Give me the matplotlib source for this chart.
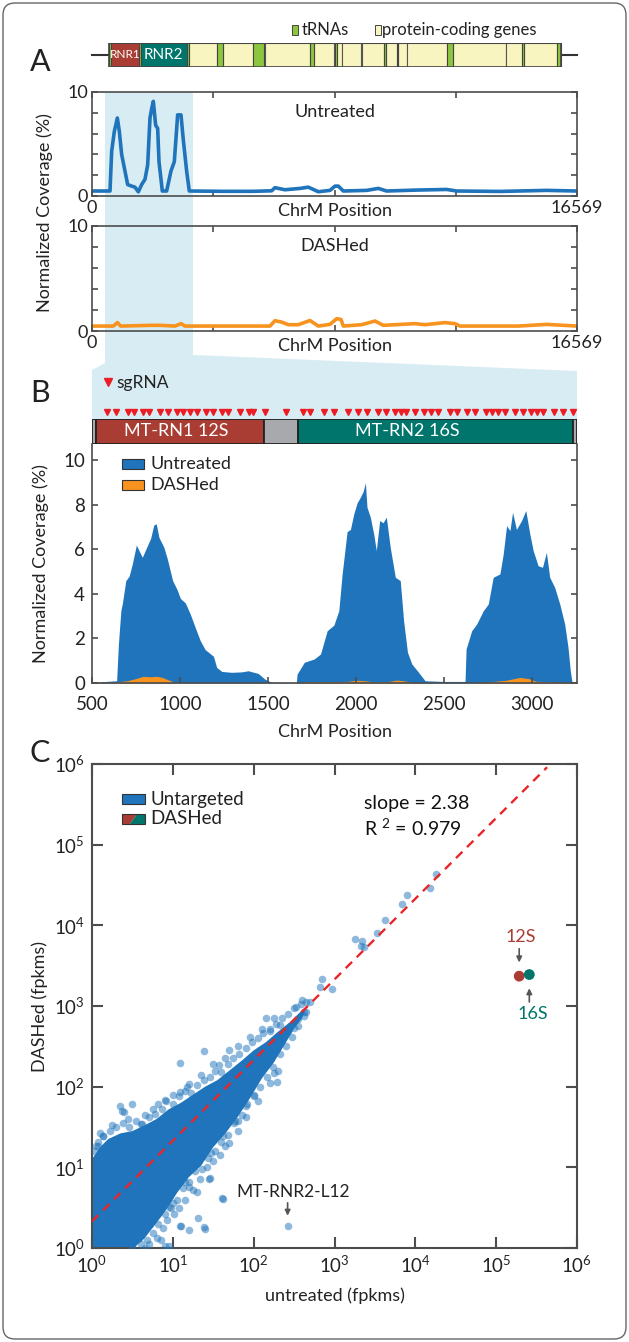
import matplotlib.pyplot as plt
import numpy as np
from matplotlib.patches import Rectangle, Polygon, FancyBboxPatch

plt.rcParams['font.family'] = ['Lato', 'DejaVu Sans']
plt.rcParams['mathtext.fontset'] = 'custom'
plt.rcParams['mathtext.rm'] = 'Lato'
plt.rcParams['mathtext.default'] = 'regular'

GENOME = 16569

# mitochondrial gene map (start, end)
rrna_spans = [(648, 1601), (1671, 3229)]
rrna_names = ['RNR1', 'RNR2']
trna_spans = [(577, 647), (1602, 1670), (3230, 3304), (4263, 4469), (5512, 5891),
              (7446, 7585), (8295, 8364), (9991, 10058), (10405, 10469),
              (12138, 12336), (14674, 14742), (15888, 16023)]
protein_spans = [(3307, 4262), (4470, 5511), (5904, 7445), (7586, 8269), (8366, 8526),
                 (8527, 9206), (9207, 9990), (10059, 10404), (10470, 10759),
                 (10760, 12137), (12337, 14148), (14149, 14673), (14747, 15887)]

# whole-genome coverage (%)
a_pos = [0, 615, 672, 762, 866, 934, 1013, 1105, 1218, 1355, 1469, 1583, 1697, 1810, 1902,
         1981, 2038, 2095, 2175, 2243, 2289, 2402, 2550, 2698, 2812, 2926, 3040, 3119, 3233,
         3324, 4500, 5500, 6137, 6250, 6592, 7106, 7389, 7561, 7732, 8130, 8301, 8415, 8586,
         9383, 9781, 10066, 11091, 12116, 12457, 13937, 15531, 16569]
a_untreated = [0.48, 0.48, 4.3, 6.2, 7.5, 6.2, 4.0, 2.7, 1.1, 0.95, 0.85, 0.4, 1.1, 1.6, 3.0,
               7.5, 8.4, 9.1, 6.8, 6.5, 3.3, 0.48, 0.48, 2.4, 3.3, 7.8, 7.8, 5.4, 2.4,
               0.48, 0.45, 0.45, 0.5, 0.8, 0.6, 0.73, 0.85, 0.63, 0.41, 0.54, 0.95, 0.95, 0.48,
               0.54, 0.73, 0.48, 0.57, 0.63, 0.48, 0.44, 0.54, 0.48]
d_pos = [0, 729, 866, 980, 2038, 2323, 2835, 3040, 3177, 6080, 6251, 6479, 6707, 7048, 7447,
         7732, 8130, 8358, 8506, 8586, 9212, 9668, 9952, 11034, 11376, 12059, 12400, 12571,
         14563, 15531, 16569]
a_dashed = [0.47, 0.47, 0.8, 0.47, 0.54, 0.54, 0.47, 0.7, 0.47, 0.47, 0.98, 0.85, 0.6, 0.6, 1.0,
            0.47, 0.63, 1.17, 1.1, 0.47, 0.6, 0.95, 0.54, 0.7, 0.6, 0.8, 0.7, 0.47,
            0.47, 0.63, 0.47]

# rRNA region coverage (%)
b_pos = [500, 560, 640, 650, 664, 673, 692, 711, 729, 752,
         767, 786, 805, 833, 851, 865, 880, 908, 927, 958,
         983, 1002, 1030, 1058, 1086, 1115, 1143, 1190, 1208, 1237,
         1293, 1350, 1387, 1444, 1481, 1519, 1594, 1661, 1665, 1706,
         1762, 1798, 1836, 1874, 1902, 1921, 1949, 1968, 1987, 2006,
         2021, 2040, 2053, 2062, 2081, 2100, 2115, 2134, 2153, 2172,
         2194, 2223, 2251, 2270, 2292, 2317, 2355, 2392, 2496, 2619,
         2625, 2657, 2685, 2723, 2751, 2779, 2817, 2836, 2855, 2874,
         2889, 2911, 2940, 2964, 2987, 3006, 3034, 3059, 3081, 3100,
         3128, 3157, 3185, 3204, 3217, 3227, 3255]
b_untreated = [0.0, 0.06, 0.1, 1.75, 3.25, 3.6, 4.6, 4.8, 5.35, 6.2,
               5.95, 5.65, 6.0, 6.5, 7.1, 7.15, 6.55, 6.1, 5.6, 4.6,
               4.2, 3.8, 3.6, 3.1, 2.5, 1.9, 1.5, 1.2, 0.7, 0.52,
               0.48, 0.5, 0.55, 0.43, 0.18, 0.03, 0.02, 0.02, 0.4, 0.93,
               1.08, 1.3, 2.35, 2.6, 3.25, 4.9, 6.8, 6.9, 7.6, 8.1,
               8.3, 8.6, 9.0, 7.9, 7.45, 6.7, 5.95, 7.3, 7.2, 7.45,
               6.1, 4.75, 4.6, 2.8, 1.38, 0.85, 0.48, 0.1, 0.07, 0.07,
               1.53, 2.35, 2.65, 3.25, 3.55, 4.75, 4.9, 5.8, 7.07, 6.85,
               7.67, 6.9, 7.3, 7.75, 6.7, 5.95, 5.27, 5.2, 5.87, 4.75,
               4.3, 3.55, 2.65, 1.6, 0.55, 0.03, 0.0]
bd_pos = [500, 620, 650, 700, 750, 790, 830, 870, 900, 940, 970, 1000, 1680, 1700, 1800,
          1950, 2000, 2050, 2100, 2180, 2230, 2270, 2320, 2400, 2650, 2750, 2850, 2930,
          2980, 3020, 3100, 3200, 3230]
b_dashed = [0, 0.02, 0.06, 0.1, 0.2, 0.3, 0.28, 0.3, 0.25, 0.12, 0.02, 0, 0, 0.05, 0.06,
            0.07, 0.12, 0.1, 0.05, 0.06, 0.13, 0.1, 0.03, 0, 0, 0.05, 0.12, 0.25,
            0.2, 0.08, 0.05, 0.03, 0]
sgrna_pos = [587, 637, 705, 739, 792, 826, 887, 933, 983, 1017, 1058, 1097, 1150, 1188,
             1236, 1275, 1343, 1393, 1416, 1485, 1601, 1696, 1737, 1817, 1874, 1954, 2011,
             2061, 2123, 2168, 2221, 2255, 2282, 2335, 2387, 2426, 2464, 2533, 2574, 2631,
             2676, 2738, 2774, 2806, 2847, 2904, 2950, 2996, 3030, 3064, 3125, 3178, 3230]
b_segments = [(500, 523, '#a7a9ac'), (523, 1476, '#a93d33'), (1476, 1668, '#a7a9ac'),
              (1668, 3230, '#00756b'), (3230, 3255, '#a7a9ac')]

# gene expression, log10(fpkms): untreated (x) vs DASHed (y)
core_upper = [(-0.1, 1.05), (0.0, 1.1), (0.1, 1.25), (0.2, 1.35), (0.35, 1.42), (0.5, 1.45),
              (0.65, 1.52), (0.8, 1.6), (0.95, 1.72), (1.1, 1.8), (1.25, 1.9), (1.4, 2.0),
              (1.55, 2.08), (1.7, 2.2), (1.85, 2.32), (2.0, 2.45), (2.15, 2.55), (2.3, 2.68),
              (2.45, 2.8), (2.6, 2.95), (2.66, 3.0)]
core_lower = [(2.6, 2.85), (2.5, 2.72), (2.4, 2.55), (2.25, 2.3), (2.1, 2.1), (1.95, 1.85),
              (1.8, 1.62), (1.65, 1.42), (1.5, 1.25), (1.35, 1.02), (1.2, 0.88), (1.05, 0.68),
              (0.95, 0.52), (0.85, 0.38), (0.75, 0.25), (0.65, 0.12), (0.55, 0.03),
              (0.45, -0.1), (-0.1, -0.1)]
edge_genes = [(0.02, 1.2), (0.08, 1.32), (0.14, 1.39), (0.05, 1.27), (0.22, 1.45), (0.3, 1.5),
              (0.38, 1.55), (0.46, 1.5), (0.55, 1.58), (0.62, 1.54), (0.7, 1.62), (0.78, 1.66),
              (0.86, 1.72), (0.92, 1.82), (1.0, 1.78), (1.08, 1.88), (1.15, 1.95), (1.22, 1.92),
              (1.3, 2.02), (1.38, 2.08), (1.46, 2.12), (1.52, 2.2), (1.6, 2.18), (1.68, 2.28),
              (1.75, 2.35), (1.82, 2.4), (1.9, 2.48), (1.98, 2.55), (2.05, 2.6), (2.12, 2.66),
              (2.2, 2.72), (2.28, 2.78), (2.35, 2.85), (2.42, 2.9),
              (0.5, 0.02), (0.6, 0.05), (0.68, 0.1), (0.75, 0.18), (0.82, 0.3), (0.9, 0.42),
              (0.98, 0.5), (1.05, 0.6), (1.12, 0.75), (1.2, 0.82), (1.28, 0.95), (1.36, 0.98),
              (1.44, 1.12), (1.52, 1.2), (1.6, 1.32), (1.68, 1.4), (1.76, 1.55), (1.85, 1.65),
              (1.92, 1.78), (2.0, 1.9), (2.08, 2.0), (2.16, 2.12), (2.24, 2.25), (2.32, 2.4),
              (2.4, 2.5), (2.48, 2.62), (2.55, 2.75), (2.62, 2.88),
              (2.5, 2.98), (2.58, 3.02), (2.65, 3.05), (2.62, 2.93), (2.45, 2.75), (2.35, 2.62),
              (0.58, 0.12), (0.66, 0.0), (0.72, 0.3), (0.8, 0.12), (0.88, 0.25), (0.93, 0.35),
              (1.02, 0.42), (1.08, 0.5), (1.15, 0.6), (1.25, 0.72), (1.33, 0.85), (1.42, 1.0),
              (1.5, 1.08), (1.58, 1.15), (1.7, 1.3), (1.8, 1.45), (1.9, 1.62), (2.05, 1.82),
              (2.2, 2.05), (2.3, 2.2),
              (0.1, 1.42), (0.25, 1.52), (0.45, 1.6), (0.65, 1.65), (0.82, 1.78), (1.0, 1.9),
              (1.18, 2.0), (1.35, 2.15), (1.5, 2.28), (1.65, 2.35), (1.8, 2.5), (1.95, 2.62),
              (2.1, 2.72), (2.25, 2.85)]
outlier_genes = [(4.25, 4.64), (4.18, 4.46), (3.90, 4.37), (3.83, 4.27), (3.62, 4.06),
                 (3.52, 3.90), (3.25, 3.83), (3.34, 3.80), (3.33, 3.74), (3.36, 3.73),
                 (2.85, 3.34), (2.82, 3.24), (2.97, 3.21), (2.70, 3.05), (2.60, 3.07),
                 (2.52, 2.99), (2.65, 2.92), (2.15, 2.85), (2.55, 2.84), (2.50, 2.73),
                 (2.42, 2.69), (2.32, 2.76), (2.20, 2.69), (2.30, 2.63), (1.38, 2.44),
                 (1.69, 2.46), (1.09, 2.29), (1.57, 2.27), (2.25, 2.17), (2.29, 2.06),
                 (2.0, 1.88), (1.95, 1.99), (1.80, 1.88), (1.90, 1.76), (1.77, 1.57),
                 (1.62, 1.39), (1.65, 1.27), (1.47, 1.18), (1.45, 0.85), (1.30, 0.69),
                 (1.20, 0.76), (1.62, 0.61), (1.31, 0.37), (1.40, 0.24), (1.20, 0.22),
                 (1.10, 0.27), (1.0, 0.56), (0.95, 0.51), (2.42, 0.27), (0.90, 0.02),
                 (0.95, 0.02), (0.35, 1.76), (0.50, 1.78), (0.40, 1.68), (0.14, 1.39),
                 (0.60, 1.54), (0.75, 1.72), (0.90, 1.84), (1.20, 2.03), (0.37, 1.70),
                 (1.09, 1.93), (1.80, 1.57), (1.46, 0.87), (1.61, 0.62), (1.38, 0.26),
                 (1.09, 0.27), (1.15, 0.82), (0.07, 1.26), (0.7, 0.05), (0.85, 0.1)]
rrna_genes = [(5.285, 3.37), (5.41, 3.39)]
rrna_colors = ['#a93d33', '#00756b']
fit_log = [(0.0, 0.33), (5.63, 5.96)]

BLUE = '#1f74bb'
ORANGE = '#f7931e'
SPINE = '#4d4d4d'

W, H = 629, 1342
fig = plt.figure(figsize=(W / 100, H / 100), dpi=100)


def add_ax(x0, y0, x1, y1, **kw):
    return fig.add_axes([x0 / W, 1 - y1 / H, (x1 - x0) / W, (y1 - y0) / H], **kw)


# pixel-space layers for the zoom shading and the annotations
bg = add_ax(0, 0, W, H, zorder=-5)
bg.set_xlim(0, W); bg.set_ylim(H, 0); bg.axis('off')
fg = add_ax(0, 0, W, H, zorder=10)
fg.set_xlim(0, W); fg.set_ylim(H, 0); fg.axis('off')

L, R = 92, 577
bg.add_patch(FancyBboxPatch((3, 3), W - 6, H - 6, boxstyle='round,pad=0,rounding_size=12',
                            fill=False, ec='#666666', lw=1.0))
sx0, sx1 = 105, 193
bg.add_patch(Polygon([(sx0, 92), (sx1, 92), (sx1, 355), (R, 371), (R, 419), (L, 419),
                      (L, 370), (sx0, 363)], closed=True, fc='#d8edf3', ec='none'))

for lab, y in (('A', 62), ('B', 393), ('C', 753)):
    fg.text(40, y, lab, fontsize=22, ha='center', va='center', color='#222222')

# ---- gene map ----
axg = add_ax(L, 43, R, 67)
axg.set_xlim(0, GENOME); axg.set_ylim(0, 1); axg.axis('off')
axg.plot([0, GENOME], [0.5, 0.5], color='#333333', lw=1.5, zorder=0, clip_on=False)
for s, e in protein_spans:
    axg.add_patch(Rectangle((s, 0), e - s, 1, fc='#f8f5c1', ec='#555555', lw=0.8))
for s, e in trna_spans:
    axg.add_patch(Rectangle((s, 0), e - s, 1, fc='#8cc63f', ec='#444444', lw=0.8))
for (s, e), c, n in zip(rrna_spans, rrna_colors, rrna_names):
    axg.add_patch(Rectangle((s, 0), e - s, 1, fc=c, ec='#444444', lw=0.8))
    axg.text((s + e) / 2, 0.5, n, color='white', ha='center', va='center',
             fontsize=8.5 if n == 'RNR1' else 11)
axg.add_patch(Rectangle((577, 0), 16023 - 577, 1, fill=False, ec='#444444', lw=1.2))

fg.add_patch(Rectangle((292, 25), 6, 10, fc='#8cc63f', ec='#444444', lw=0.7))
fg.text(302, 30, 'tRNAs', fontsize=12, va='center', color='#222222')
fg.add_patch(Rectangle((375, 25), 6, 10, fc='#f8f5c1', ec='#444444', lw=0.7))
fg.text(382, 30, 'protein-coding genes', fontsize=12, va='center', color='#222222')


def style(ax, length=4.5, width=1.2):
    for sp in ax.spines.values():
        sp.set_color(SPINE)
        sp.set_linewidth(width)
    ax.tick_params(direction='in', length=length, width=width, color=SPINE,
                   labelsize=13, labelcolor='#222222', pad=3)


# ---- panel A ----
for (y0, y1), pos, vals, col, title, ty in (((92, 196), a_pos, a_untreated, BLUE, 'Untreated', 112),
                                             ((226, 331), d_pos, a_dashed, ORANGE, 'DASHed', 246)):
    ax = add_ax(L, y0, R, y1)
    ax.set_facecolor('none')
    ax.plot(pos, vals, color=col, lw=2.6, solid_joinstyle='round')
    ax.set_xlim(0, GENOME); ax.set_ylim(0, 10)
    ax.set_xticks(np.linspace(0, GENOME, 5))
    ax.set_xticklabels(['0', '', '', '', '16569'])
    ax.set_yticks([0, 2, 4, 6, 8, 10])
    ax.set_yticklabels(['0', '', '', '', '', '10'])
    style(ax)
    ax.tick_params(top=True, right=True)
    fg.text(335, ty, title, fontsize=13, ha='center', va='center', color='#222222')
    fg.text(335, y1 + 15, 'ChrM Position', fontsize=13, ha='center', va='center', color='#222222')
fg.text(45, 213, 'Normalized Coverage (%)', fontsize=13, rotation=90, ha='center', va='center',
        color='#222222')

# ---- panel B ----
fg.plot([108], [382], marker='v', color='#ed1c24', ms=6, ls='none')
fg.text(116, 383, 'sgRNA', fontsize=12.5, va='center', color='#222222')

axb_bar = add_ax(L, 419, R, 444)
axb_bar.set_xlim(500, 3255); axb_bar.set_ylim(0, 1); axb_bar.axis('off')
for s, e, c in b_segments:
    axb_bar.add_patch(Rectangle((s, 0), e - s, 1, fc=c, ec='#222222', lw=1.3))
axb_bar.text(979, 0.5, 'MT-RN1 12S', color='white', ha='center', va='center', fontsize=13)
axb_bar.text(2289, 0.5, 'MT-RN2 16S', color='white', ha='center', va='center', fontsize=13)
axb_bar.plot(sgrna_pos, [1.28] * len(sgrna_pos), ls='none', marker='v', ms=4.2,
             color='#ed1c24', clip_on=False)

axb = add_ax(L, 444, R, 683)
axb.fill_between(b_pos, b_untreated, color=BLUE, lw=0)
axb.fill_between(bd_pos, b_dashed, color=ORANGE, lw=0)
axb.set_xlim(500, 3255); axb.set_ylim(0, 10.74)
axb.set_xticks([500, 1000, 1500, 2000, 2500, 3000])
axb.set_yticks([0, 2, 4, 6, 8, 10])
style(axb)
axb.spines['top'].set_visible(False)
axb.tick_params(right=True, labelsize=13.5)
axb.tick_params(axis='x', pad=9)
axb.tick_params(axis='y', pad=5)
axb.set_xlabel('ChrM Position', fontsize=13, color='#222222', labelpad=8)
axb.set_ylabel('Normalized Coverage (%)', fontsize=13, color='#222222', labelpad=10)
for yc, col, lab in ((464, BLUE, 'Untreated'), (485, ORANGE, 'DASHed')):
    fg.add_patch(Rectangle((122, yc - 5), 22, 10, fc=col, ec='#333333', lw=0.8))
    fg.text(150, yc, lab, fontsize=13, va='center', color='#222222')

# ---- panel C ----
axc = add_ax(L, 764, R, 1248)
axc.set_xscale('log'); axc.set_yscale('log')
cx = [p[0] for p in core_upper + core_lower]
cy = [p[1] for p in core_upper + core_lower]
axc.fill(np.power(10.0, cx), np.power(10.0, cy), color=BLUE, lw=0, zorder=2)
ex = np.array([p[0] for p in edge_genes + outlier_genes])
ey = np.array([p[1] for p in edge_genes + outlier_genes])
axc.scatter(10 ** ex, 10 ** ey, s=30, color=BLUE, alpha=0.5, lw=0, zorder=3)
fx = [p[0] for p in fit_log]
fy = [p[1] for p in fit_log]
axc.plot(np.power(10.0, fx), np.power(10.0, fy), color='#e8262a', lw=1.7,
         ls=(0, (3.8, 2.8)), zorder=4)
rx = np.array([p[0] for p in rrna_genes])
ry = np.array([p[1] for p in rrna_genes])
axc.scatter(10 ** rx, 10 ** ry, s=60, color=rrna_colors, lw=0, zorder=5)
axc.set_xlim(1, 1e6); axc.set_ylim(1, 1e6)
axc.set_xticks(10.0 ** np.arange(7)); axc.set_yticks(10.0 ** np.arange(7))
axc.minorticks_off()
style(axc, length=8, width=1.5)
axc.tick_params(top=True, right=True, labelsize=13.5, pad=5)
axc.set_xlabel('untreated (fpkms)', fontsize=13, color='#222222', labelpad=8)
axc.set_ylabel('DASHed (fpkms)', fontsize=13, color='#222222', labelpad=4)

arrow = dict(arrowstyle='-|>', color='#555555', lw=1.2, mutation_scale=8, shrinkA=0, shrinkB=0)
axc.annotate('', xy=(10 ** 5.285, 10 ** 3.54), xytext=(10 ** 5.285, 10 ** 3.71), arrowprops=arrow)
axc.text(10 ** 5.31, 10 ** 3.86, '12S', color='#a93d33', fontsize=13, ha='center', va='center')
axc.annotate('', xy=(10 ** 5.41, 10 ** 3.22), xytext=(10 ** 5.41, 10 ** 3.05), arrowprops=arrow)
axc.text(10 ** 5.45, 10 ** 2.9, '16S', color='#00756b', fontsize=13, ha='center', va='center')
axc.annotate('', xy=(10 ** 2.42, 10 ** 0.40), xytext=(10 ** 2.42, 10 ** 0.56), arrowprops=arrow)
axc.text(10 ** 2.49, 10 ** 0.70, 'MT-RNR2-L12', color='#222222', fontsize=12.5, ha='center',
         va='center')
fg.text(364, 803, 'slope = 2.38', fontsize=14, va='center', color='#111111')
fg.text(364, 828, 'R $^{2}$ = 0.979', fontsize=14, va='center', color='#111111')

fg.add_patch(Rectangle((122, 794), 23, 10, fc=BLUE, ec='#333333', lw=0.8))
fg.add_patch(Polygon([(122, 824), (122, 814), (137, 814), (130, 824)], closed=True,
                     fc='#a93d33', ec='none'))
fg.add_patch(Polygon([(130, 824), (137, 814), (145, 814), (145, 824)], closed=True,
                     fc='#00756b', ec='none'))
fg.add_patch(Rectangle((122, 814), 23, 10, fill=False, ec='#333333', lw=0.8))
fg.text(150, 799, 'Untargeted', fontsize=13.5, va='center', color='#222222')
fg.text(150, 819, 'DASHed', fontsize=13.5, va='center', color='#222222')

fig.savefig('out.png', dpi=100)
